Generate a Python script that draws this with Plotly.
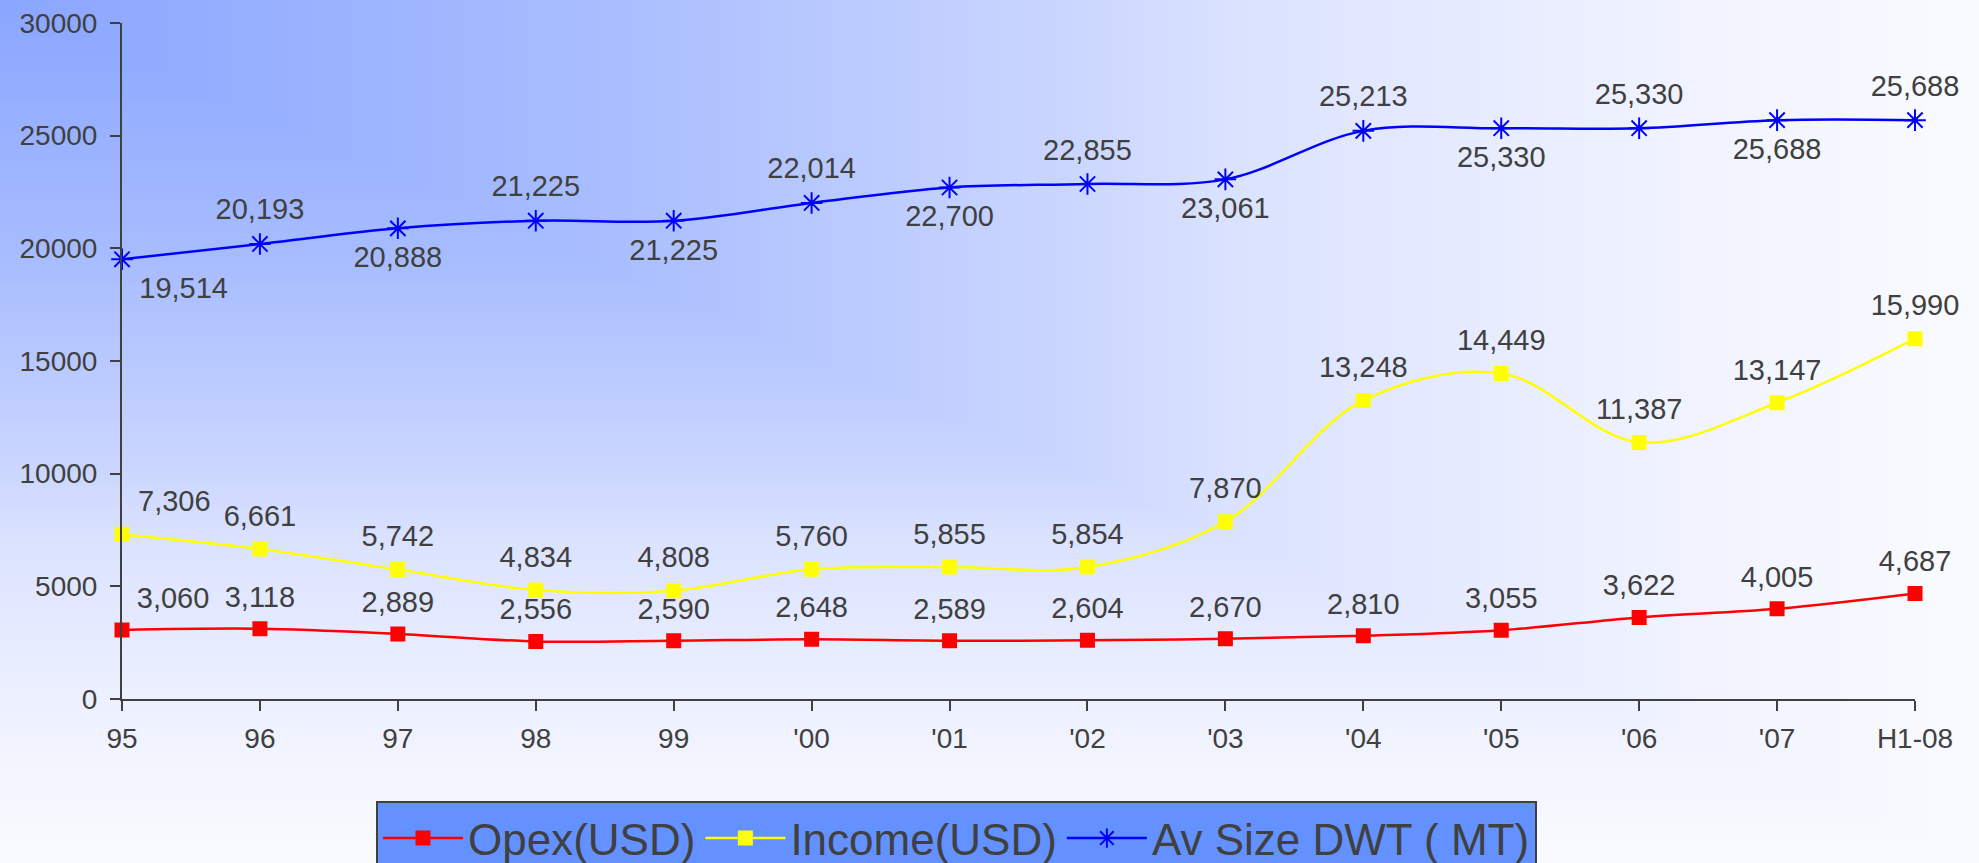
import base64
import struct
import zlib

import numpy as np
import plotly.graph_objects as go

# data
years = ["95", "96", "97", "98", "99", "'00", "'01", "'02", "'03", "'04", "'05", "'06", "'07", "H1-08"]
opex = [3060, 3118, 2889, 2556, 2590, 2648, 2589, 2604, 2670, 2810, 3055, 3622, 4005, 4687]
income = [7306, 6661, 5742, 4834, 4808, 5760, 5855, 5854, 7870, 13248, 14449, 11387, 13147, 15990]
av_size = [19514, 20193, 20888, 21225, 21225, 22014, 22700, 22855, 23061, 25213, 25330, 25330, 25688, 25688]
y_ticks = [0, 5000, 10000, 15000, 20000, 25000, 30000]

W, H = 1979, 863
ML, MR, MT, MB = 122, 64, 23, 164
TXT = "#404040"
FONT = "Liberation Sans"


# background: "from corner" gradient, blue top-left fading to white
def gradient_png(w, h):
    xs = np.linspace(0, 1, w)[None, :]
    ys = np.linspace(0, 1, h)[:, None]
    t = np.maximum(xs, ys)
    stops = [0, 0.3, 0.53, 0.63, 0.85, 1.0]
    r = np.interp(t, stops, [138, 168, 201, 220, 240, 250])
    g = np.interp(t, stops, [166, 189, 213, 227, 243, 251])
    b = np.interp(t, stops, [255, 255, 255, 255, 255, 255])
    img = np.stack([r, g, b], axis=2).round().astype(np.uint8)
    raw = b"".join(b"\x00" + img[i].tobytes() for i in range(h))

    def chunk(tag, data):
        return (struct.pack(">I", len(data)) + tag + data
                + struct.pack(">I", zlib.crc32(tag + data) & 0xffffffff))

    png = (b"\x89PNG\r\n\x1a\n"
           + chunk(b"IHDR", struct.pack(">IIBBBBB", w, h, 8, 2, 0, 0, 0))
           + chunk(b"IDAT", zlib.compress(raw, 9))
           + chunk(b"IEND", b""))
    return "data:image/png;base64," + base64.b64encode(png).decode()


fig = go.Figure()

series = [
    ("Opex(USD)", opex, "#FF0000", "square", 13),
    ("Income(USD)", income, "#FFFF00", "square", 13),
    ("Av Size DWT ( MT)", av_size, "#0000FF", "asterisk-open", 18),
]
for name, vals, col, sym, sz in series:
    fig.add_trace(go.Scatter(
        x=years, y=vals, name=name, mode="lines+markers",
        line=dict(color=col, width=2.5, shape="spline", smoothing=1),
        marker=dict(symbol=sym, size=sz, color=col, line=dict(color=col, width=2)),
        cliponaxis=False, hoverinfo="x+y",
    ))

# value labels (invisible big markers push the text away from the points)
pos_top = ["top right"] + ["top center"] * (len(years) - 1)
pos_av = ["bottom right"] + ["top center" if i % 2 else "bottom center" for i in range(1, len(years))]
for vals, pos, gap in [(opex, pos_top, 22), (income, pos_top, 24), (av_size, pos_av, 26)]:
    fig.add_trace(go.Scatter(
        x=years, y=vals, mode="markers+text", showlegend=False, hoverinfo="skip",
        marker=dict(size=gap, color="rgba(0,0,0,0)"),
        text=[f"{v:,}" for v in vals], textposition=pos,
        textfont=dict(family=FONT, size=29, color=TXT),
        cliponaxis=False,
    ))

fig.add_layout_image(
    source=gradient_png(396, 173), xref="paper", yref="paper",
    x=-ML / (W - ML - MR), y=1 + MT / (H - MT - MB),
    sizex=W / (W - ML - MR), sizey=H / (H - MT - MB),
    xanchor="left", yanchor="top", sizing="stretch", layer="below",
)

axis_common = dict(showgrid=False, zeroline=False, linecolor=TXT, linewidth=2,
                   tickcolor=TXT, tickwidth=2, ticklen=10, automargin=False)
fig.update_layout(
    width=W, height=H, autosize=False,
    margin=dict(l=ML, r=MR, t=MT, b=MB, autoexpand=False),
    paper_bgcolor="white", plot_bgcolor="rgba(0,0,0,0)",
    font=dict(family=FONT, color=TXT),
    xaxis=dict(axis_common, type="category", range=[0, len(years) - 1], showline=True,
               ticks="outside", tickfont=dict(size=28, color=TXT), ticklabelstandoff=3),
    yaxis=dict(axis_common, range=[0, 30000], tickvals=y_ticks, tickformat="d", showline=True,
               ticks="outside", tickfont=dict(size=28, color=TXT), ticklabelstandoff=7),
    # second pair of axes only for the inner half of the crossing tick marks
    xaxis2=dict(axis_common, overlaying="x", range=[0, len(years) - 1], tickvals=list(range(len(years))),
                ticks="inside", showticklabels=False, showline=False, anchor="y"),
    yaxis2=dict(axis_common, overlaying="y", range=[0, 30000], tickvals=y_ticks,
                ticks="inside", showticklabels=False, showline=False, anchor="x"),
    legend=dict(
        orientation="h", x=(376 - ML) / (W - ML - MR), xanchor="left",
        y=(H - MB - 801) / (H - MT - MB), yanchor="top",
        bgcolor="#6391FF", bordercolor=TXT, borderwidth=2,
        font=dict(family=FONT, size=44, color=TXT),
        itemwidth=80,
    ),
    showlegend=True,
)

fig.write_html(
    "out.html",
    config={"displayModeBar": False},
    post_script="document.body.style.margin='0px';document.body.style.overflow='hidden';",
)
